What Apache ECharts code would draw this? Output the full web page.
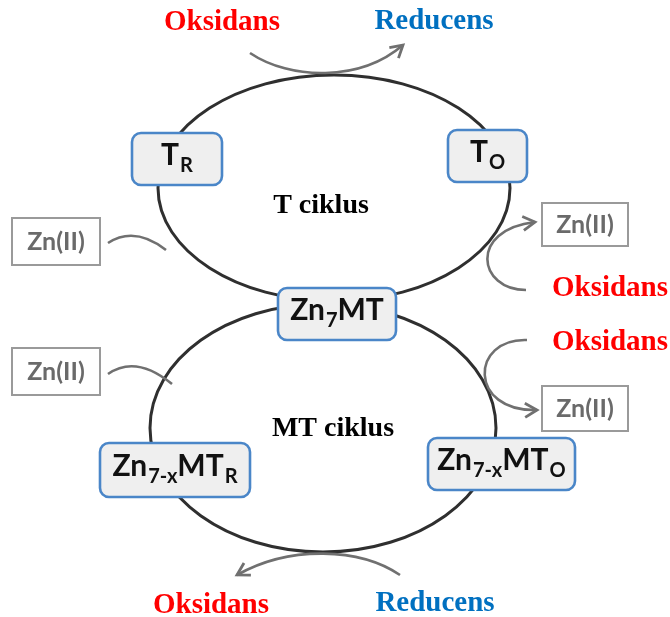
<!DOCTYPE html>
<html>
<head>
<meta charset="utf-8">
<script src="https://cdn.jsdelivr.net/npm/echarts@6/dist/echarts.min.js"></script>
<style>
html,body{margin:0;padding:0;background:#fff;}
#main{width:670px;height:617px;}
</style>
</head>
<body>
<div id="main"></div>
<script>
// ciklusi: cx, cy, rx, ry
var cycles = [
    [334, 188, 176, 113],
    [323, 428, 173, 124]
];
// plavi okviri: x1, y1, x2, y2
var nodeBoxes = [
    [132, 133, 222, 185],
    [448, 130, 527, 182],
    [278, 288, 396, 340],
    [100, 443, 250, 497],
    [428, 438, 575, 490]
];
// tekst u okvirima: [tekst, indeks(1) ili ne(0)]
var nodeLabels = [
    [['T', 0], ['R', 1]],
    [['T', 0], ['O', 1]],
    [['Zn', 0], ['7', 1], ['MT', 0]],
    [['Zn', 0], ['7-x', 1], ['MT', 0], ['R', 1]],
    [['Zn', 0], ['7-x', 1], ['MT', 0], ['O', 1]]
];
// Zn(II) okviri: x1, y1, x2, y2
var zincBoxes = [
    [12, 218, 100, 265],
    [12, 348, 100, 395],
    [542, 203, 628, 246],
    [542, 386, 628, 431]
];
// strelice (bezier): x0,y0, cx1,cy1, cx2,cy2, x3,y3, vrh strelice
var arrows = [
    [250, 53, 290, 80, 360, 82, 403, 45, 1],
    [400, 575, 360, 548, 290, 545, 237, 575, 1],
    [108, 243, 128, 230, 148, 236, 166, 250, 0],
    [108, 374, 128, 360, 150, 366, 172, 384, 0],
    [526, 290, 478, 290, 468, 230, 535, 222, 1],
    [527, 340, 470, 338, 468, 412, 537, 410, 1]
];
// natpisi: tekst, x, y, tip
var labelTexts = ['Oksidans', 'Reducens', 'Oksidans', 'Oksidans', 'Oksidans', 'Reducens', 'T ciklus', 'MT ciklus'];
var labelPos = [
    [222, 23], [434, 22], [610, 289], [610, 343], [211, 606], [435, 604], [321, 206], [333, 429]
];
var labelKind = ['ox', 'red', 'ox', 'ox', 'ox', 'red', 'cyc', 'cyc'];

var kindColor = {ox: '#ff0000', red: '#0070c0', cyc: '#000000'};
var kindSize = {ox: 29, red: 29, cyc: 28};

var measureCtx = document.createElement('canvas').getContext('2d');
function textWidth(str, font) {
    measureCtx.font = font;
    return measureCtx.measureText(str).width;
}

var mainSize = 30, subSize = 20;
var mainFont = 'bold ' + mainSize + 'px Lato';
var subFont = 'bold ' + subSize + 'px Lato';

function renderCycle(params, api) {
    var c = api.coord([api.value(0), api.value(1)]);
    var s = api.size([api.value(2), api.value(3)]);
    return {
        type: 'ellipse',
        shape: {cx: c[0], cy: c[1], rx: s[0], ry: s[1]},
        style: {fill: null, stroke: '#2f2f2f', lineWidth: 3}
    };
}

function renderArrow(params, api) {
    var p = [];
    for (var i = 0; i < 4; i++) {
        p.push(api.coord([api.value(i * 2), api.value(i * 2 + 1)]));
    }
    var stroke = '#707070';
    var children = [{
        type: 'bezierCurve',
        shape: {x1: p[0][0], y1: p[0][1], cpx1: p[1][0], cpy1: p[1][1], cpx2: p[2][0], cpy2: p[2][1], x2: p[3][0], y2: p[3][1]},
        style: {fill: null, stroke: stroke, lineWidth: 2.6}
    }];
    if (api.value(8)) {
        var ang = Math.atan2(p[3][1] - p[2][1], p[3][0] - p[2][0]);
        var L = 12, W = 7;
        var cs = Math.cos(ang), sn = Math.sin(ang);
        var bx = p[3][0] - L * cs, by = p[3][1] - L * sn;
        children.push({
            type: 'polyline',
            shape: {points: [[bx + W * sn, by - W * cs], [p[3][0], p[3][1]], [bx - W * sn, by + W * cs]]},
            style: {fill: null, stroke: stroke, lineWidth: 2.8, lineJoin: 'miter'}
        });
    }
    return {type: 'group', children: children};
}

function renderNode(params, api) {
    var a = api.coord([api.value(0), api.value(1)]);
    var b = api.coord([api.value(2), api.value(3)]);
    var segs = nodeLabels[params.dataIndex];
    var total = 0, widths = [];
    segs.forEach(function (sg) {
        var w = textWidth(sg[0], sg[1] ? subFont : mainFont) + (sg[1] ? 1 : 0);
        widths.push(w);
        total += w;
    });
    var cx = (a[0] + b[0]) / 2, cy = (a[1] + b[1]) / 2 - 4;
    var x = cx - total / 2;
    var children = [{
        type: 'rect',
        shape: {x: a[0], y: a[1], width: b[0] - a[0], height: b[1] - a[1], r: 9},
        style: {fill: '#efefef', stroke: '#4a86c8', lineWidth: 2.6}
    }];
    segs.forEach(function (sg, i) {
        children.push({
            type: 'text',
            x: x + (sg[1] ? 1 : 0),
            y: cy + (sg[1] ? 11 : 0),
            style: {
                text: sg[0], fill: '#111111',
                font: sg[1] ? subFont : mainFont,
                align: 'left', verticalAlign: 'middle'
            }
        });
        x += widths[i];
    });
    return {type: 'group', children: children};
}

function renderZinc(params, api) {
    var a = api.coord([api.value(0), api.value(1)]);
    var b = api.coord([api.value(2), api.value(3)]);
    return {
        type: 'group',
        children: [{
            type: 'rect',
            shape: {x: a[0], y: a[1], width: b[0] - a[0], height: b[1] - a[1]},
            style: {fill: '#ffffff', stroke: '#9a9a9a', lineWidth: 2}
        }, {
            type: 'text',
            x: (a[0] + b[0]) / 2, y: (a[1] + b[1]) / 2,
            style: {text: 'Zn(II)', fill: '#6a6a6a', font: 'bold 25px Lato', align: 'center', verticalAlign: 'middle'}
        }]
    };
}

function renderLabel(params, api) {
    var c = api.coord([api.value(0), api.value(1)]);
    var k = labelKind[params.dataIndex];
    return {
        type: 'text',
        x: c[0], y: c[1],
        style: {
            text: labelTexts[params.dataIndex], fill: kindColor[k],
            font: 'bold ' + kindSize[k] + 'px "Liberation Serif"',
            align: 'center', verticalAlign: 'middle'
        }
    };
}

var myChart = echarts.init(document.getElementById('main'));
var option = {
    animation: false,
    backgroundColor: '#ffffff',
    grid: {left: 0, right: 0, top: 0, bottom: 0},
    xAxis: {type: 'value', min: 0, max: 670, show: false},
    yAxis: {type: 'value', min: 0, max: 617, inverse: true, show: false},
    series: [
        {type: 'custom', renderItem: renderCycle, data: cycles, clip: false, silent: true},
        {type: 'custom', renderItem: renderArrow, data: arrows, clip: false, silent: true},
        {type: 'custom', renderItem: renderZinc, data: zincBoxes, clip: false, silent: true},
        {type: 'custom', renderItem: renderNode, data: nodeBoxes, clip: false, silent: true},
        {type: 'custom', renderItem: renderLabel, data: labelPos, clip: false, silent: true}
    ]
};
myChart.setOption(option);
</script>
</body>
</html>
